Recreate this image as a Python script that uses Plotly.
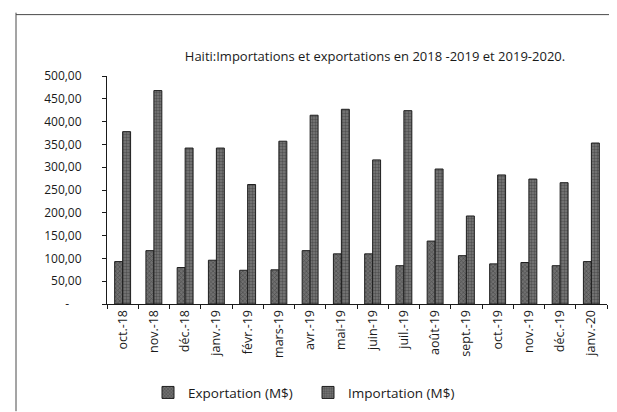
import plotly.graph_objects as go

months = ["oct.-18", "nov.-18", "déc.-18", "janv.-19", "févr.-19", "mars-19", "avr.-19", "mai-19",
          "juin-19", "juil.-19", "août-19", "sept.-19", "oct.-19", "nov.-19", "déc.-19", "janv.-20"]
exportation = [93, 117, 80, 96, 74, 75, 117, 110, 110, 84, 138, 106, 88, 91, 84, 93]
importation = [378, 468, 342, 342, 262, 357, 414, 427, 316, 424, 296, 193, 283, 274, 266, 353]
y_ticks = [0, 50, 100, 150, 200, 250, 300, 350, 400, 450, 500]
y_ticktext = ["-\u00a0\u00a0\u00a0\u00a0", "50,00", "100,00", "150,00", "200,00", "250,00",
              "300,00", "350,00", "400,00", "450,00", "500,00"]

FONT = "Open Sans"

fig = go.Figure()
fig.add_trace(go.Bar(
    x=months, y=exportation, name="Exportation (M$)",
    marker=dict(color="#707070", line=dict(color="#1e1e1e", width=1),
                pattern=dict(shape="x", fgcolor="#2a2a2a", size=3, solidity=0.4)),
))
fig.add_trace(go.Bar(
    x=months, y=importation, name="Importation (M$)",
    marker=dict(color="#7a7a7a", line=dict(color="#1e1e1e", width=1),
                pattern=dict(shape=".", fgcolor="#2a2a2a", size=3, solidity=0.5)),
))

W, H = 617, 412
L, R, T, B = 99, 18, 68, 110
pw, ph = W - L - R, H - T - B

def px(x):
    return (x - L) / pw

def py(y):
    return (H - B - y) / ph

line_style = dict(color="#4a4a4a", width=1)
shapes = [
    dict(type="line", xref="paper", yref="paper", x0=px(8), x1=px(8), y0=py(3), y1=py(412), line=line_style),
    dict(type="line", xref="paper", yref="paper", x0=px(8), x1=px(612), y0=py(5), y1=py(5), line=line_style),
    dict(type="line", xref="paper", yref="paper", x0=px(612), x1=px(612), y0=py(5), y1=py(412), line=line_style),
]

fig.update_layout(
    width=W, height=H,
    margin=dict(l=L, r=R, t=T, b=B, pad=0),
    paper_bgcolor="white", plot_bgcolor="white",
    barmode="group", bargap=0.49, bargroupgap=0,
    font=dict(family=FONT, size=12, color="#1a1a1a"),
    title=dict(text="Haiti:Importations et exportations en 2018 -2019 et 2019-2020.",
               x=367 / W, xanchor="center", y=1 - 48 / H, yanchor="middle",
               font=dict(family=FONT, size=13, color="#1a1a1a")),
    showlegend=True,
    legend=dict(orientation="h", x=px(140), xanchor="left", y=py(393), yanchor="middle",
                font=dict(family=FONT, size=13.5, color="#1a1a1a"),
                entrywidth=115, entrywidthmode="pixels", traceorder="normal"),
    shapes=shapes,
)
fig.update_xaxes(
    type="category", showline=True, linecolor="#1a1a1a", linewidth=1,
    ticks="outside", ticklen=4, tickcolor="#1a1a1a", tickson="boundaries",
    tickangle=-90, tickfont=dict(family=FONT, size=12.5), showgrid=False, zeroline=False,
)
fig.update_yaxes(
    range=[0, 500], tickvals=y_ticks, ticktext=y_ticktext,
    showline=True, linecolor="#1a1a1a", linewidth=1,
    ticks="outside", ticklen=4, tickcolor="#1a1a1a", ticklabelstandoff=18,
    tickfont=dict(family=FONT, size=12), showgrid=False, zeroline=False,
)

fig.write_html("out.html")
